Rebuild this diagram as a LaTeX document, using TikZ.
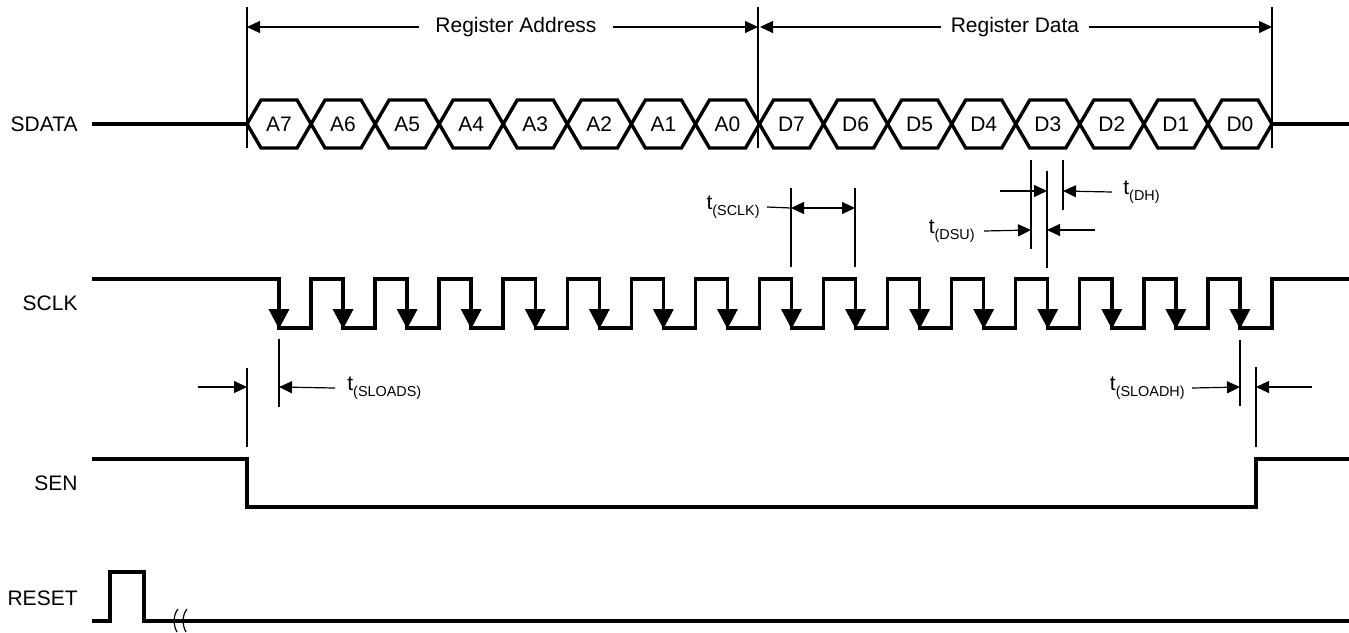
\documentclass[tikz,border=0pt]{standalone}
\usepackage{fontspec}
\setmainfont{Liberation Sans}
\usetikzlibrary{arrows.meta,positioning,calc}
\tikzset{
  every node/.append style={font=\fontsize{10.5}{12}\selectfont},
}
\newcommand{\tname}[1]{t\raisebox{-0.55ex}{\fontsize{7.2}{8}\selectfont(#1)}}

\begin{document}
\begin{tikzpicture}[x=0.5pt, y=-0.5pt,
  signal/.style={line width=1.7pt, line join=miter},
  guide/.style={line width=0.6pt},
  dim/.style={line width=0.6pt, -{Triangle[length=6.5pt,width=6pt]}},
  dimboth/.style={line width=0.6pt, {Triangle[length=6.5pt,width=6pt]}-{Triangle[length=6.5pt,width=6pt]}},
  clkedge/.style={line width=1.7pt, -{Triangle[length=10pt,width=10pt]}},
  signame/.style={anchor=east, inner sep=0pt},
  tlabel/.style={inner sep=0pt},
  bit/.style={inner sep=0pt}
]
\useasboundingbox (0,0) rectangle (1349,632);

% Signal names
\node[signame] (sdata) at (78,124) {SDATA};
\node[signame] (sclk) at (78,303) {SCLK};
\node[signame] (sen) at (78,483) {SEN};
\node[signame] (reset) at (78,598) {RESET};

% Frame markers
\coordinate (addr-start) at (247,27);
\coordinate (addr-end) at (758,27);
\coordinate (data-end) at (1272,27);
\foreach \m in {addr-start, addr-end, data-end}
  \draw[guide] (\m) ++(0,-20) -- ++(0,141);

\node[inner xsep=8pt, inner ysep=0pt] (regaddr) at (516,27) {Register Address};
\node[inner xsep=4.5pt, inner ysep=0pt] (regdata) at (1015,27) {Register Data};
\draw[dim] (regaddr.west) -- (addr-start);
\draw[dim] (regaddr.east) -- (addr-end);
\draw[dim] (regdata.west) -- ([xshift=1pt]addr-end);
\draw[dim] (regdata.east) -- (data-end);

% SDATA
\draw[signal] (92,124) -- (247,124);
\foreach \lbl [count=\i from 0] in {A7,A6,A5,A4,A3,A2,A1,A0,D7,D6,D5,D4,D3,D2,D1,D0} {
  \pgfmathsetmacro\xa{247+64.0625*\i}
  \pgfmathsetmacro\xb{\xa+64.0625}
  \draw[signal] (\xa,124) -- ({\xa+14},100) -- ({\xb-14},100) -- (\xb,124)
    -- ({\xb-14},148) -- ({\xa+14},148) -- cycle;
  \node[bit] (bit-\lbl) at ({\xa+32},124) {\lbl};
}
\draw[signal] (1272,124) -- (1349,124);

% SCLK
\draw[signal] (92,279)
  \foreach \k in {0,...,15} { -- ({279+64.0625*\k},279) -- ({279+64.0625*\k},328)
    -- ({311+64.0625*\k},328) -- ({311+64.0625*\k},279) }
  -- (1349,279);
\foreach \k in {0,...,15}
  \draw[clkedge] ({279+64.0625*\k},300) -- ({279+64.0625*\k},329);

% t(SCLK)
\coordinate (sclk-a) at (791,208);
\coordinate (sclk-b) at (855,208);
\draw[guide] (sclk-a) ++(0,-20) -- ++(0,79);
\draw[guide] (sclk-b) ++(0,-20) -- ++(0,79);
\draw[dimboth] (sclk-a) -- (sclk-b);
\node[tlabel, anchor=east] (tsclk) at (760,207) {\tname{SCLK}};
\draw[guide] ([xshift=3.5pt]tsclk.east) -- (sclk-a);

% t(DSU) and t(DH)
\coordinate (d3-start) at (1031,230);
\coordinate (d3-edge) at (1047,230);
\coordinate (d3-end) at (1063,191);
\draw[guide] (1031,160) -- (1031,249);
\draw[guide] (1047,171) -- (1047,268);
\draw[guide] (1063,160) -- (1063,210);
\node[tlabel, anchor=west] (tdh) at (1123,192) {\tname{DH}};
\node[tlabel, anchor=east] (tdsu) at (975,231) {\tname{DSU}};
\draw[dim] (1000,191) -- (d3-edge |- d3-end);
\draw[dim] ([xshift=-5.5pt]tdh.west) -- (d3-end);
\draw[dim] ([xshift=4.5pt]tdsu.east) -- (d3-start);
\draw[dim] (1095,230) -- (d3-edge);

% t(SLOADS)
\coordinate (sen-fall) at (247,387);
\coordinate (clk-first) at (279,387);
\draw[guide] (sen-fall) ++(0,-19) -- ++(0,79);
\draw[guide] (clk-first) ++(0,-48) -- ++(0,68);
\node[tlabel, anchor=west] (tsloads) at (347,388) {\tname{SLOADS}};
\draw[dim] (198,387) -- (sen-fall);
\draw[dim] ([xshift=-6pt]tsloads.west) -- (clk-first);

% t(SLOADH)
\coordinate (clk-last) at (1240,387);
\coordinate (sen-rise) at (1256,387);
\draw[guide] (clk-last) ++(0,-47) -- ++(0,66);
\draw[guide] (sen-rise) ++(0,-20) -- ++(0,80);
\node[tlabel, anchor=east] (tsloadh) at (1185,388) {\tname{SLOADH}};
\draw[dim] ([xshift=3.5pt]tsloadh.east) -- (clk-last);
\draw[dim] (1312,387) -- (sen-rise);

% SEN
\draw[signal] (92,459) -- (247,459) -- (247,507) -- (1256,507) -- (1256,459) -- (1349,459);

% RESET
\draw[signal] (92,621) -- (110,621) -- (110,572) -- (144,572) -- (144,621) -- (1349,621);
\foreach \x in {178,187}
  \draw[guide] (\x,609) .. controls ({\x-5},615) and ({\x-5},625) .. ({\x-1},632);

\end{tikzpicture}
\end{document}
